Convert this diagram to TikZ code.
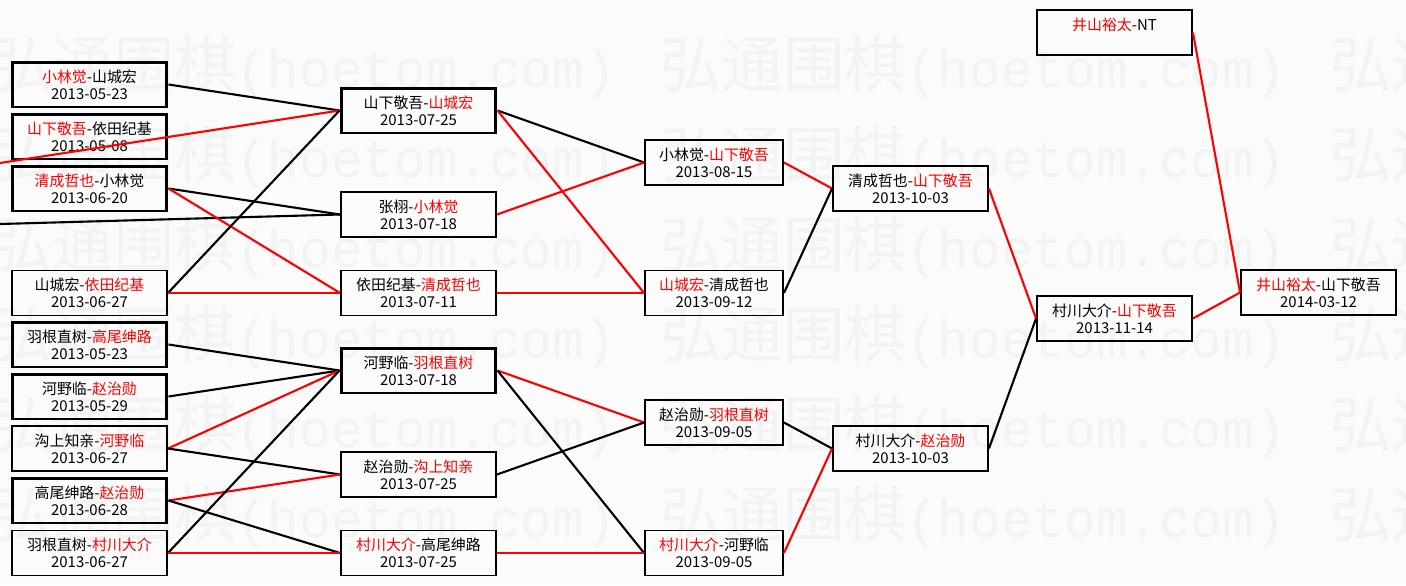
\documentclass[tikz,border=0pt]{standalone}
\usepackage{fontspec}
\setmainfont{Noto Sans CJK SC}
\newfontfamily\wmmono{Liberation Mono}
\definecolor{bgc}{RGB}{251,251,251}
\definecolor{wmc}{RGB}{243,243,243}
\tikzset{
  bout/.style={draw,line width=1.1pt,minimum width=3.1cm,minimum height=0.9cm,inner sep=0pt,align=center,font=\fontsize{8.5pt}{9.6pt}\selectfont},
  boutb/.style={bout,line width=1.7pt},
  narrow/.style={minimum width=2.76cm},
  lk/.style={black,line width=1.2pt},
  lr/.style={red,line width=1.2pt},
  wm/.style={wmc,anchor=west,inner sep=0pt,font=\fontsize{35pt}{35pt}\selectfont}
}
\newcommand{\hong}[1]{\textcolor{red}{#1}}
\begin{document}
\begin{tikzpicture}[x=0.02cm,y=-0.02cm]
  \useasboundingbox (0,0) rectangle (1406,585);
  \fill[bgc] (0,0) rectangle (1406,585);
  % 水印
  \foreach \j in {0,1,2}
    \foreach \i in {67,157,247,337,427,517}
      \node[wm] (wm-\j-\i) at (-10+670*\j,\i) {弘通围棋{\wmmono\fontsize{30pt}{30pt}\selectfont(hoetom.com)}};
  % 第一轮
  \node[boutb] (r1a) at (89.5,84.5) {\hong{小林觉}-山城宏\\2013-05-23};
  \node[boutb] (r1b) at (89.5,136.5) {\hong{山下敬吾}-依田纪基\\2013-05-08};
  \node[boutb] (r1c) at (89.5,188.5) {\hong{清成哲也}-小林觉\\2013-06-20};
  \node[bout] (r1d) at (89.5,293) {山城宏-\hong{依田纪基}\\2013-06-27};
  \node[boutb] (r1e) at (89.5,344.5) {羽根直树-\hong{高尾绅路}\\2013-05-23};
  \node[boutb] (r1f) at (89.5,396.5) {河野临-\hong{赵治勋}\\2013-05-29};
  \node[bout] (r1g) at (89.5,448.5) {沟上知亲-\hong{河野临}\\2013-06-27};
  \node[boutb] (r1h) at (89.5,500.5) {高尾绅路-\hong{赵治勋}\\2013-06-28};
  \node[bout] (r1i) at (89.5,553) {羽根直树-\hong{村川大介}\\2013-06-27};
  % 第二轮
  \node[boutb] (r2a) at (418.5,110.5) {山下敬吾-\hong{山城宏}\\2013-07-25};
  \node[bout] (r2b) at (418.5,214.5) {张栩-\hong{小林觉}\\2013-07-18};
  \node[bout] (r2c) at (418.5,293) {依田纪基-\hong{清成哲也}\\2013-07-11};
  \node[boutb] (r2d) at (418.5,370.5) {河野临-\hong{羽根直树}\\2013-07-18};
  \node[bout] (r2e) at (418.5,474.5) {赵治勋-\hong{沟上知亲}\\2013-07-25};
  \node[bout] (r2f) at (418.5,553) {\hong{村川大介}-高尾绅路\\2013-07-25};
  % 第三轮
  \node[bout,narrow] (r3a) at (714,162.5) {小林觉-\hong{山下敬吾}\\2013-08-15};
  \node[bout,narrow] (r3b) at (714,293) {\hong{山城宏}-清成哲也\\2013-09-12};
  \node[bout,narrow] (r3c) at (714,422.5) {赵治勋-\hong{羽根直树}\\2013-09-05};
  \node[bout,narrow] (r3d) at (714,553) {\hong{村川大介}-河野临\\2013-09-05};
  % 第四轮
  \node[bout] (r4a) at (910.5,188.5) {清成哲也-\hong{山下敬吾}\\2013-10-03};
  \node[bout] (r4b) at (910.5,448.5) {村川大介-\hong{赵治勋}\\2013-10-03};
  % 决赛
  \node[bout] (r5a) at (1114.5,318.5) {村川大介-\hong{山下敬吾}\\2013-11-14};
  \node[bout] (r5nt) at (1114.5,32.5) {\hong{井山裕太}-NT\\\phantom{2013-00-00}};
  % 挑战赛
  \node[bout] (r6) at (1318.5,292.5) {\hong{井山裕太}-山下敬吾\\2014-03-12};
  % 画面外
  \coordinate (edgea) at (0,163);
  \coordinate (edgeb) at (0,224);
  % 连线
  \draw[lk] (r1a.east) -- (r2a.west);
  \draw[lr] (edgea) -- (r2a.west);
  \draw[lk] (r1c.east) -- (r2b.west);
  \draw[lk] (edgeb) -- (r2b.west);
  \draw[lr] (r1c.east) -- (r2c.west);
  \draw[lk] (r1d.east) -- (r2a.west);
  \draw[lr] (r1d.east) -- (r2c.west);
  \draw[lk] (r1e.east) -- (r2d.west);
  \draw[lk] (r1f.east) -- (r2d.west);
  \draw[lr] (r1g.east) -- (r2d.west);
  \draw[lk] (r1g.east) -- (r2e.west);
  \draw[lr] (r1h.east) -- (r2e.west);
  \draw[lk] (r1h.east) -- (r2f.west);
  \draw[lk] (r1i.east) -- (r2d.west);
  \draw[lr] (r1i.east) -- (r2f.west);
  \draw[lk] (r2a.east) -- (r3a.west);
  \draw[lr] (r2a.east) -- (r3b.west);
  \draw[lr] (r2b.east) -- (r3a.west);
  \draw[lr] (r2c.east) -- (r3b.west);
  \draw[lr] (r2d.east) -- (r3c.west);
  \draw[lk] (r2d.east) -- (r3d.west);
  \draw[lk] (r2e.east) -- (r3c.west);
  \draw[lr] (r2f.east) -- (r3d.west);
  \draw[lr] (r3a.east) -- (r4a.west);
  \draw[lk] (r3b.east) -- (r4a.west);
  \draw[lk] (r3c.east) -- (r4b.west);
  \draw[lr] (r3d.east) -- (r4b.west);
  \draw[lr] (r4a.east) -- (r5a.west);
  \draw[lk] (r4b.east) -- (r5a.west);
  \draw[lr] (r5a.east) -- (r6.west);
  \draw[lr] (r5nt.east) -- (r6.west);
\end{tikzpicture}
\end{document}
